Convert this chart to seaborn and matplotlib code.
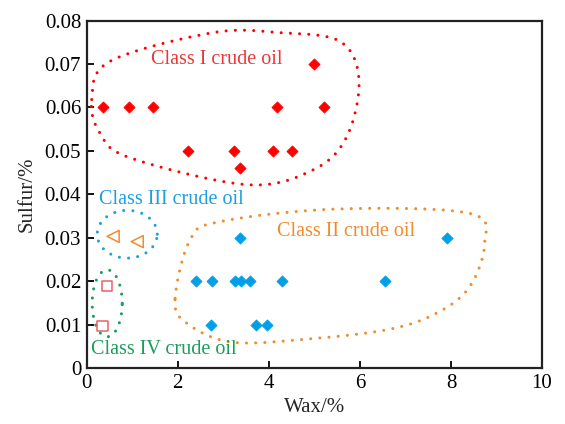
import numpy as np
import pandas as pd
import matplotlib
matplotlib.use("Agg")
import matplotlib.pyplot as plt
import seaborn as sns

# ---- data ----
c1_wax = [0.36, 0.93, 1.45, 2.23, 3.24, 3.37, 4.10, 4.18, 4.52, 5.00, 5.22]
c1_sul = [0.060, 0.060, 0.060, 0.050, 0.050, 0.046, 0.050, 0.060, 0.050, 0.070, 0.060]

c2_wax = [3.37, 7.92, 2.40, 2.75, 3.26, 3.39, 3.59, 4.29, 6.56, 2.74, 3.72, 3.96]
c2_sul = [0.030, 0.030, 0.020, 0.020, 0.020, 0.020, 0.020, 0.020, 0.020, 0.010, 0.010, 0.010]

c3_wax = [0.58, 1.11]
c3_sul = [0.0303, 0.0291]

c4_wax = [0.44, 0.35]
c4_sul = [0.0188, 0.0097]

class_names = ["Class I crude oil", "Class II crude oil", "Class III crude oil", "Class IV crude oil"]
x_ticks = [0, 2, 4, 6, 8, 10]
y_ticks = [0, 0.01, 0.02, 0.03, 0.04, 0.05, 0.06, 0.07, 0.08]
y_ticklabels = ["0", "0.01", "0.02", "0.03", "0.04", "0.05", "0.06", "0.07", "0.08"]

# outline shapes (annotation), in data coordinates
out1_x = [0.11, 0.51, 2.77, 4.24, 5.56, 5.98, 5.71, 4.97, 3.52, 0.95, 0.29]
out1_y = [0.0618, 0.0706, 0.0772, 0.0772, 0.0752, 0.0664, 0.0532, 0.0456, 0.0422, 0.0484, 0.0541]
out2_x = [1.94, 2.20, 3.15, 4.68, 6.59, 7.68, 8.41, 8.74, 8.41, 5.49, 2.93, 2.27]
out2_y = [0.0157, 0.0103, 0.0060, 0.0065, 0.0088, 0.0126, 0.0187, 0.0287, 0.0356, 0.0366, 0.0337, 0.0295]

RED = "#FF0000"
BLUE = "#00A0E9"
ORANGE = "#F08C2E"
CYAN_TXT = "#1E9FE0"
GREEN = "#1A9E5C"
PINK = "#E8606A"

sns.set_style("white")
plt.rcParams["font.family"] = ["Liberation Serif", "DejaVu Serif"]

fig = plt.figure(figsize=(5.65, 4.24), dpi=100)
ax = fig.add_axes([86.7 / 565, 1 - 368 / 424, (542 - 86.7) / 565, (368 - 20.5) / 424])

df1 = pd.DataFrame({"wax": c1_wax, "sulfur": c1_sul})
df2 = pd.DataFrame({"wax": c2_wax, "sulfur": c2_sul})
df3 = pd.DataFrame({"wax": c3_wax, "sulfur": c3_sul})
df4 = pd.DataFrame({"wax": c4_wax, "sulfur": c4_sul})

sns.scatterplot(data=df1, x="wax", y="sulfur", marker="D", s=32, color=RED,
                edgecolor=RED, linewidth=0.6, ax=ax, zorder=3)
sns.scatterplot(data=df2, x="wax", y="sulfur", marker="D", s=32, color=BLUE,
                edgecolor=BLUE, linewidth=0.6, ax=ax, zorder=3)
sns.scatterplot(data=df3, x="wax", y="sulfur", marker="<", s=75, facecolor="none",
                edgecolor=ORANGE, linewidth=1.1, ax=ax, zorder=3)
sns.scatterplot(data=df4, x="wax", y="sulfur", marker="s", s=55, facecolor="none",
                edgecolor=PINK, linewidth=1.1, ax=ax, zorder=3)


def smooth_closed(xs, ys, n=40):
    px = np.array(xs, float)
    py = np.array(ys, float)
    k = len(px)
    outx, outy = [], []
    t = np.linspace(0, 1, n, endpoint=False)
    for i in range(k):
        p0, p1, p2, p3 = (i - 1) % k, i, (i + 1) % k, (i + 2) % k
        for arr, src in ((outx, px), (outy, py)):
            a0, a1, a2, a3 = src[p0], src[p1], src[p2], src[p3]
            arr.extend(0.5 * ((2 * a1) + (-a0 + a2) * t +
                              (2 * a0 - 5 * a1 + 4 * a2 - a3) * t ** 2 +
                              (-a0 + 3 * a1 - 3 * a2 + a3) * t ** 3))
    outx.append(outx[0]); outy.append(outy[0])
    return outx, outy


dot = dict(linestyle=(0, (0.01, 3.0)), linewidth=2.2, dash_capstyle="round", zorder=2)
x1, y1 = smooth_closed(out1_x, out1_y)
ax.plot(x1, y1, color=RED, **dot)
x2, y2 = smooth_closed(out2_x, out2_y)
ax.plot(x2, y2, color=ORANGE, **dot)

th = np.linspace(0, 2 * np.pi, 200)
ax.plot(0.89 + 0.66 * np.cos(th), 0.0308 + 0.0055 * np.sin(th), color=CYAN_TXT, **dot)
ax.plot(0.45 + 0.33 * np.cos(th), 0.0149 + 0.0077 * np.sin(th), color=GREEN, **dot)

fs_txt = 14.5
ax.text(2.85, 0.0711, class_names[0], color="#E83838", fontsize=fs_txt, ha="center", va="center")
ax.text(5.69, 0.0314, class_names[1], color=ORANGE, fontsize=fs_txt, ha="center", va="center")
ax.text(1.86, 0.0389, class_names[2], color=CYAN_TXT, fontsize=fs_txt, ha="center", va="center")
ax.text(1.70, 0.0043, class_names[3], color=GREEN, fontsize=fs_txt, ha="center", va="center")

ax.set_xlim(0, 10)
ax.set_ylim(0, 0.08)
ax.set_xticks(x_ticks)
ax.set_xticklabels([str(v) for v in x_ticks])
ax.set_yticks(y_ticks)
ax.set_yticklabels(y_ticklabels)
ax.tick_params(axis="both", direction="in", length=5, width=1.3, labelsize=15,
               bottom=True, left=True, top=False, right=False, pad=4, colors="black")
for sp in ax.spines.values():
    sp.set_visible(True)
    sp.set_color("#222222")
    sp.set_linewidth(1.6)
ax.set_xlabel("Wax/%", fontsize=15, labelpad=4)
ax.set_ylabel("Sulfur/%", fontsize=15, labelpad=6)

fig.savefig("out.png", dpi=100)
